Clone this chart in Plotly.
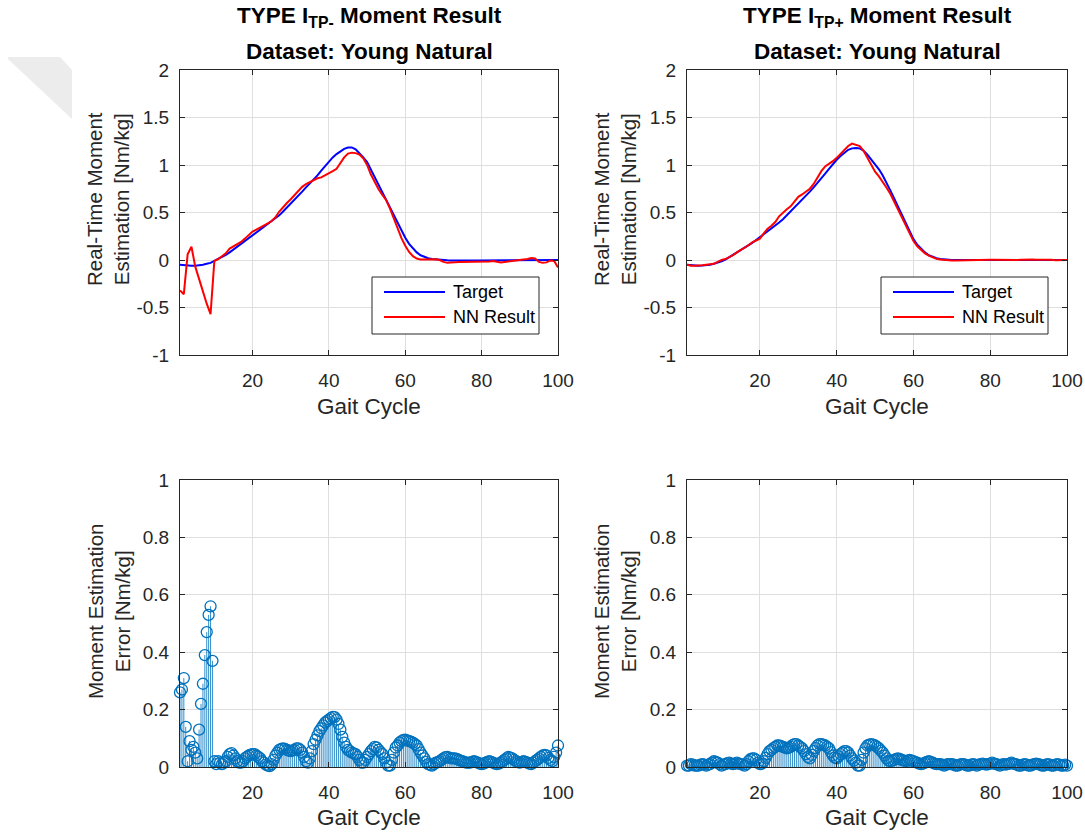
import plotly.graph_objects as go

# ---------------- data ----------------
gait_cycle = list(range(1, 101))
# error samples are taken every half percent of the gait cycle
gait_cycle_fine = [1 + 0.5 * i for i in range(199)]

# Type I_TP- : target moment and network output [Nm/kg]
tp_minus_target = [
    -0.05, -0.055, -0.06, -0.06, -0.06, -0.058, -0.05, -0.04, -0.03, -0.01,
    0.01, 0.03, 0.055, 0.08, 0.11, 0.14, 0.17, 0.20, 0.23, 0.26,
    0.29, 0.32, 0.35, 0.38, 0.405, 0.435, 0.47, 0.51, 0.55, 0.59,
    0.63, 0.675, 0.72, 0.765, 0.805, 0.845, 0.89, 0.94, 0.99, 1.04,
    1.08, 1.115, 1.145, 1.17, 1.183, 1.185, 1.165, 1.125, 1.08, 1.03,
    0.95, 0.875, 0.79, 0.71, 0.635, 0.555, 0.47, 0.39, 0.31, 0.235,
    0.17, 0.12, 0.08, 0.05, 0.03, 0.018, 0.01, 0.005, 0.002, 0.0,
    -0.003, -0.005, -0.006, -0.006, -0.006, -0.005, -0.005, -0.005, -0.004, -0.004,
    -0.004, -0.004, -0.004, -0.003, -0.003, -0.003, -0.003, -0.002, -0.002, -0.002,
    -0.002, -0.001, -0.001, -0.001, 0.0, 0.0, 0.0, 0.0, 0.0, 0.0,
]
tp_minus_nn = [
    -0.32, -0.36, 0.06, 0.14, -0.07, -0.19, -0.33, -0.46, -0.57, -0.01,
    0.01, 0.04, 0.07, 0.12, 0.145, 0.165, 0.19, 0.225, 0.265, 0.30,
    0.32, 0.34, 0.36, 0.385, 0.41, 0.45, 0.51, 0.56, 0.60, 0.64,
    0.685, 0.73, 0.77, 0.80, 0.82, 0.84, 0.86, 0.87, 0.89, 0.915,
    0.935, 0.96, 1.02, 1.08, 1.12, 1.13, 1.125, 1.11, 1.07, 1.0,
    0.90, 0.82, 0.745, 0.685, 0.63, 0.54, 0.43, 0.32, 0.23, 0.15,
    0.085, 0.04, 0.015, 0.005, 0.005, 0.008, 0.01, 0.008, 0.0, -0.02,
    -0.03, -0.03, -0.025, -0.02, -0.02, -0.02, -0.015, -0.015, -0.015, -0.015,
    -0.015, -0.015, -0.01, -0.02, -0.025, -0.02, -0.015, -0.01, -0.01, -0.005,
    0.0, 0.01, 0.02, 0.015, -0.02, -0.03, -0.025, -0.005, -0.01, -0.08,
]
tp_minus_error = [
    0.26, 0.27, 0.31, 0.14, 0.02, 0.09, 0.06, 0.07, 0.05, 0.03,
    0.13, 0.22, 0.29, 0.39, 0.47, 0.53, 0.56, 0.37, 0.02, 0.01,
    0.02, 0.015, 0.01, 0.015, 0.02, 0.035, 0.045, 0.048, 0.04, 0.03,
    0.02, 0.015, 0.015, 0.02, 0.03, 0.035, 0.04, 0.043, 0.045, 0.045,
    0.04, 0.035, 0.03, 0.02, 0.015, 0.008, 0.005, 0.003, 0.01, 0.025,
    0.04, 0.05, 0.06, 0.063, 0.065, 0.063, 0.06, 0.057, 0.055, 0.058,
    0.06, 0.065, 0.065, 0.06, 0.05, 0.035, 0.02, 0.015, 0.03, 0.055,
    0.08, 0.095, 0.11, 0.125, 0.135, 0.145, 0.155, 0.16, 0.165, 0.17,
    0.175, 0.174, 0.165, 0.15, 0.13, 0.105, 0.085, 0.07, 0.06, 0.055,
    0.05, 0.047, 0.045, 0.035, 0.025, 0.015, 0.015, 0.025, 0.035, 0.045,
    0.055, 0.062, 0.07, 0.068, 0.06, 0.052, 0.045, 0.03, 0.015, 0.005,
    0.005, 0.025, 0.05, 0.068, 0.075, 0.085, 0.09, 0.094, 0.095, 0.093,
    0.09, 0.088, 0.085, 0.08, 0.075, 0.062, 0.05, 0.04, 0.03, 0.018,
    0.01, 0.007, 0.005, 0.01, 0.015, 0.017, 0.02, 0.025, 0.03, 0.034,
    0.035, 0.033, 0.03, 0.03, 0.03, 0.028, 0.025, 0.022, 0.02, 0.017,
    0.015, 0.015, 0.015, 0.018, 0.02, 0.018, 0.015, 0.012, 0.01, 0.012,
    0.015, 0.018, 0.02, 0.018, 0.015, 0.012, 0.01, 0.012, 0.015, 0.02,
    0.025, 0.03, 0.035, 0.033, 0.03, 0.025, 0.02, 0.017, 0.015, 0.018,
    0.02, 0.018, 0.015, 0.012, 0.01, 0.015, 0.02, 0.025, 0.03, 0.035,
    0.04, 0.042, 0.04, 0.032, 0.025, 0.02, 0.035, 0.05, 0.075,
]

# Type I_TP+ : target moment and network output [Nm/kg]
tp_plus_target = [
    -0.05, -0.055, -0.06, -0.06, -0.058, -0.055, -0.05, -0.04, -0.03, -0.015,
    0.005, 0.03, 0.05, 0.075, 0.10, 0.125, 0.15, 0.18, 0.21, 0.24,
    0.27, 0.30, 0.33, 0.365, 0.395, 0.43, 0.47, 0.51, 0.55, 0.59,
    0.635, 0.68, 0.72, 0.765, 0.81, 0.86, 0.91, 0.96, 1.01, 1.055,
    1.095, 1.13, 1.16, 1.175, 1.18, 1.175, 1.15, 1.11, 1.06, 1.0,
    0.955, 0.89, 0.815, 0.73, 0.645, 0.56, 0.47, 0.385, 0.30, 0.22,
    0.16, 0.115, 0.08, 0.05, 0.03, 0.018, 0.01, 0.005, 0.002, 0.0,
    0.0, -0.001, -0.002, -0.002, -0.002, -0.002, -0.001, -0.001, 0.0, 0.0,
    0.0, 0.0, 0.0, 0.0, 0.0, 0.0, 0.0, 0.0, 0.001, 0.001,
    0.001, 0.001, 0.001, 0.001, 0.001, 0.0, 0.0, 0.0, 0.0, 0.0,
]
tp_plus_nn = [
    -0.05, -0.06, -0.06, -0.06, -0.055, -0.05, -0.045, -0.04, -0.02, 0.0,
    0.01, 0.03, 0.05, 0.08, 0.105, 0.125, 0.155, 0.185, 0.205, 0.225,
    0.28, 0.33, 0.36, 0.40, 0.46, 0.50, 0.535, 0.565, 0.615, 0.665,
    0.69, 0.72, 0.75, 0.80, 0.87, 0.935, 0.985, 1.01, 1.04, 1.075,
    1.12, 1.16, 1.20, 1.225, 1.215, 1.20, 1.15, 1.075, 1.01, 0.93,
    0.88, 0.825, 0.76, 0.695, 0.615, 0.53, 0.445, 0.36, 0.28, 0.20,
    0.145, 0.105, 0.07, 0.045, 0.025, 0.012, 0.005, 0.0, -0.003, -0.005,
    -0.005, -0.005, -0.004, -0.003, -0.003, -0.003, -0.002, -0.002, 0.0, 0.002,
    0.003, 0.002, 0.0, -0.002, -0.003, -0.002, 0.0, 0.002, 0.004, 0.005,
    0.004, 0.002, 0.003, 0.005, 0.006, 0.002, -0.002, -0.003, -0.002, 0.0,
]
tp_plus_error = [
    0.005, 0.005, 0.01, 0.008, 0.005, 0.005, 0.005, 0.008, 0.01, 0.008,
    0.005, 0.008, 0.01, 0.015, 0.02, 0.018, 0.015, 0.01, 0.005, 0.008,
    0.01, 0.013, 0.015, 0.012, 0.01, 0.012, 0.015, 0.012, 0.01, 0.008,
    0.005, 0.01, 0.02, 0.027, 0.03, 0.03, 0.025, 0.015, 0.01, 0.012,
    0.02, 0.032, 0.045, 0.055, 0.06, 0.066, 0.07, 0.075, 0.075, 0.073,
    0.07, 0.067, 0.065, 0.067, 0.07, 0.076, 0.08, 0.08, 0.075, 0.07,
    0.065, 0.055, 0.045, 0.035, 0.03, 0.042, 0.055, 0.066, 0.075, 0.08,
    0.08, 0.078, 0.075, 0.07, 0.065, 0.052, 0.04, 0.033, 0.03, 0.037,
    0.045, 0.05, 0.055, 0.055, 0.05, 0.04, 0.03, 0.022, 0.015, 0.005,
    0.005, 0.025, 0.05, 0.065, 0.075, 0.078, 0.08, 0.078, 0.075, 0.07,
    0.065, 0.057, 0.05, 0.04, 0.03, 0.022, 0.02, 0.022, 0.025, 0.028,
    0.03, 0.027, 0.025, 0.022, 0.02, 0.022, 0.025, 0.022, 0.02, 0.017,
    0.015, 0.012, 0.01, 0.012, 0.015, 0.018, 0.02, 0.018, 0.015, 0.012,
    0.01, 0.01, 0.01, 0.008, 0.005, 0.008, 0.01, 0.01, 0.01, 0.008,
    0.005, 0.005, 0.008, 0.01, 0.01, 0.008, 0.005, 0.005, 0.008, 0.01,
    0.008, 0.005, 0.008, 0.01, 0.012, 0.01, 0.008, 0.01, 0.012, 0.015,
    0.012, 0.01, 0.008, 0.005, 0.008, 0.01, 0.008, 0.01, 0.012, 0.015,
    0.012, 0.01, 0.008, 0.005, 0.005, 0.008, 0.01, 0.008, 0.005, 0.005,
    0.008, 0.01, 0.012, 0.01, 0.008, 0.005, 0.005, 0.008, 0.01, 0.008,
    0.005, 0.005, 0.008, 0.01, 0.008, 0.005, 0.005, 0.008, 0.005,
]

x_ticks = [20, 40, 60, 80, 100]
moment_ticks = [-1, -0.5, 0, 0.5, 1, 1.5, 2]
moment_tick_text = ["-1", "-0.5", "0", "0.5", "1", "1.5", "2"]
error_ticks = [0, 0.2, 0.4, 0.6, 0.8, 1]
error_tick_text = ["0", "0.2", "0.4", "0.6", "0.8", "1"]

# ---------------- styling ----------------
W, H = 1085, 833
FONT = "Liberation Sans, Arial, Helvetica, sans-serif"
AX = "#262626"
GRID = "#dfdfdf"
STEM = "#0072BD"


def px(x):
    return x / W


def py(y):
    return 1 - y / H


def stem_xy(xs, ys):
    sx, sy = [], []
    for x, y in zip(xs, ys):
        sx += [x, x, None]
        sy += [0, y, None]
    return sx, sy


fig = go.Figure()

# moment curves
for xa, ya, target, nn in [("x", "y", tp_minus_target, tp_minus_nn),
                           ("x2", "y2", tp_plus_target, tp_plus_nn)]:
    fig.add_trace(go.Scatter(x=gait_cycle, y=target, mode="lines", name="Target",
                             line=dict(color="#0000FF", width=2), xaxis=xa, yaxis=ya,
                             showlegend=False))
    fig.add_trace(go.Scatter(x=gait_cycle, y=nn, mode="lines", name="NN Result",
                             line=dict(color="#FF0000", width=2), xaxis=xa, yaxis=ya,
                             showlegend=False))

# error stem plots
for xa, ya, err in [("x3", "y3", tp_minus_error), ("x4", "y4", tp_plus_error)]:
    sx, sy = stem_xy(gait_cycle_fine, err)
    fig.add_trace(go.Scatter(x=sx, y=sy, mode="lines", line=dict(color=STEM, width=0.8),
                             xaxis=xa, yaxis=ya, showlegend=False, hoverinfo="skip"))
    fig.add_trace(go.Scatter(x=gait_cycle_fine, y=err, mode="markers",
                             marker=dict(symbol="circle-open", size=11, color=STEM,
                                         line=dict(width=1.3, color=STEM)),
                             xaxis=xa, yaxis=ya, showlegend=False, cliponaxis=False))

common_axis = dict(showline=True, linecolor=AX, linewidth=1, mirror="allticks",
                   ticks="inside", ticklen=5, tickcolor=AX, showgrid=True,
                   gridcolor=GRID, gridwidth=1, zeroline=False, automargin=False,
                   tickfont=dict(family=FONT, size=19, color=AX))

left_x = [px(180), px(558)]
right_x = [px(687), px(1067)]
top_y = [py(355), py(70)]
bot_y = [py(767), py(480)]

xa_common = dict(common_axis, range=[1, 100], tickvals=x_ticks, ticklabelstandoff=8)
ya_top = dict(common_axis, range=[-1, 2], tickvals=moment_ticks, ticktext=moment_tick_text,
              ticklabelstandoff=6)
ya_bot = dict(common_axis, range=[0, 1], tickvals=error_ticks, ticktext=error_tick_text,
              ticklabelstandoff=6)

fig.update_layout(
    width=W, height=H, autosize=False,
    margin=dict(l=0, r=0, t=0, b=0, pad=0),
    paper_bgcolor="white", plot_bgcolor="white",
    showlegend=False,
    xaxis=dict(xa_common, domain=left_x, anchor="y"),
    yaxis=dict(ya_top, domain=top_y, anchor="x"),
    xaxis2=dict(xa_common, domain=right_x, anchor="y2"),
    yaxis2=dict(ya_top, domain=top_y, anchor="x2"),
    xaxis3=dict(xa_common, domain=left_x, anchor="y3"),
    yaxis3=dict(ya_bot, domain=bot_y, anchor="x3"),
    xaxis4=dict(xa_common, domain=right_x, anchor="y4"),
    yaxis4=dict(ya_bot, domain=bot_y, anchor="x4"),
)

annotations = []
shapes = []


def text(x, y, s, size, bold=False, angle=0, xanchor="center", color=AX):
    annotations.append(dict(
        x=px(x), y=py(y), xref="paper", yref="paper", text=f"<b>{s}</b>" if bold else s,
        showarrow=False, xanchor=xanchor, yanchor="middle", textangle=angle,
        font=dict(family=FONT, size=size, color=color)))


# titles
for cx, sub in [(369, "TP-"), (877, "TP+")]:
    text(cx, 17, f"TYPE I<sub>{sub}</sub> Moment Result", 22.5, bold=True, color="#000000")
    text(cx, 52, "Dataset: Young Natural", 22.5, bold=True, color="#000000")

# axis labels
for cx in [369, 877]:
    text(cx, 406, "Gait Cycle", 22.5)
    text(cx, 817, "Gait Cycle", 22.5)
text(108, 199, "Real-Time Moment<br>Estimation [Nm/kg]", 20.5, angle=-90)
text(615, 199, "Real-Time Moment<br>Estimation [Nm/kg]", 20.5, angle=-90)
text(109, 612, "Moment Estimation<br>Error [Nm/kg]", 20.5, angle=-90)
text(615, 612, "Moment Estimation<br>Error [Nm/kg]", 20.5, angle=-90)

# legends for the two moment panels
for x0 in [372, 881]:
    shapes.append(dict(type="rect", xref="paper", yref="paper",
                       x0=px(x0), x1=px(x0 + 167), y0=py(334), y1=py(277),
                       line=dict(color=AX, width=1), fillcolor="white", layer="above"))
    for yy, col, label in [(292, "#0000FF", "Target"), (317, "#FF0000", "NN Result")]:
        shapes.append(dict(type="line", xref="paper", yref="paper",
                           x0=px(x0 + 12), x1=px(x0 + 73), y0=py(yy), y1=py(yy),
                           line=dict(color=col, width=2), layer="above"))
        text(x0 + 79, yy, label, 18, xanchor="left", color="#000000")

# faint grey corner mark
shapes.append(dict(type="path", xref="paper", yref="paper", layer="below",
                   path=(f"M {px(8)} {py(57)} L {px(60)} {py(57)} L {px(72)} {py(70)} "
                         f"L {px(72)} {py(119)} L {px(8)} {py(59)} Z"),
                   fillcolor="#ececec", line=dict(width=0)))

fig.update_layout(annotations=annotations, shapes=shapes)

fig.write_html("out.html")
